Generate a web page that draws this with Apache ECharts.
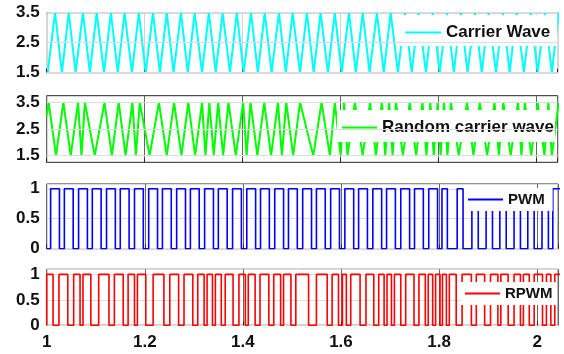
<!DOCTYPE html>
<html>
<head>
<meta charset="utf-8">
<script src="https://cdn.jsdelivr.net/npm/echarts@6/dist/echarts.min.js"></script>
<style>
  html, body { margin: 0; padding: 0; background: #fff; }
  #chart { width: 564px; height: 354px; }
</style>
</head>
<body>
<div id="chart"></div>
<script>
// carrier wave vertices [time, value]
var carrierWave = [
  [1.002,1.5],[1.017,3.5],[1.031,1.5],[1.045,3.5],[1.059,1.5],[1.074,3.5],[1.088,1.5],
  [1.102,3.5],[1.117,1.5],[1.131,3.5],[1.145,1.5],[1.159,3.5],[1.174,1.5],[1.188,3.5],
  [1.202,1.5],[1.217,3.5],[1.231,1.5],[1.245,3.5],[1.259,1.5],[1.274,3.5],[1.288,1.5],
  [1.302,3.5],[1.317,1.5],[1.331,3.5],[1.345,1.5],[1.359,3.5],[1.374,1.5],[1.388,3.5],
  [1.402,1.5],[1.417,3.5],[1.431,1.5],[1.445,3.5],[1.459,1.5],[1.474,3.5],[1.488,1.5],
  [1.502,3.5],[1.517,1.5],[1.531,3.5],[1.545,1.5],[1.559,3.5],[1.574,1.5],[1.588,3.5],
  [1.602,1.5],[1.617,3.5],[1.631,1.5],[1.645,3.5],[1.659,1.5],[1.674,3.5],[1.688,1.5],
  [1.702,3.5],[1.717,1.5],[1.731,3.5],[1.745,1.5],[1.759,3.5],[1.774,1.5],[1.788,3.5],
  [1.802,1.5],[1.817,3.5],[1.831,1.5],[1.845,3.5],[1.859,1.5],[1.874,3.5],[1.888,1.5],
  [1.902,3.5],[1.917,1.5],[1.931,3.5],[1.945,1.5],[1.959,3.5],[1.974,1.5],[1.988,3.5],
  [2.002,1.5],[2.017,3.5],[2.031,1.5],[2.045,3.5]
];

// random carrier vertices [time, value]
var randomCarrier = [
  [1.000,3.0],[1.004,3.5],[1.019,1.5],[1.034,3.5],[1.049,1.5],[1.064,3.5],[1.071,1.5],
  [1.078,3.5],[1.098,1.5],[1.118,3.5],[1.133,1.5],[1.147,3.5],[1.161,1.5],[1.175,3.5],
  [1.182,1.5],[1.190,3.5],[1.210,1.5],[1.229,3.5],[1.245,1.5],[1.260,3.5],[1.275,1.5],
  [1.289,3.5],[1.303,1.5],[1.317,3.5],[1.324,1.5],[1.332,3.5],[1.341,1.5],[1.350,3.5],
  [1.360,1.5],[1.371,3.5],[1.386,1.5],[1.401,3.5],[1.408,1.5],[1.416,3.5],[1.430,1.5],
  [1.444,3.5],[1.458,1.5],[1.472,3.5],[1.480,1.5],[1.489,3.5],[1.503,1.5],[1.517,3.5],
  [1.544,1.5],[1.561,3.5],[1.578,1.5],[1.588,3.5],[1.600,1.5],[1.607,3.5],[1.614,1.5],
  [1.629,3.5],[1.645,1.5],[1.660,3.5],[1.672,1.5],[1.684,3.5],[1.691,1.5],[1.699,3.5],
  [1.706,1.5],[1.713,3.5],[1.727,1.5],[1.741,3.5],[1.754,1.5],[1.767,3.5],[1.775,1.5],
  [1.783,3.5],[1.790,1.5],[1.798,3.5],[1.804,1.5],[1.811,3.5],[1.818,1.5],[1.825,3.5],
  [1.841,1.5],[1.858,3.5],[1.871,1.5],[1.884,3.5],[1.899,1.5],[1.914,3.5],[1.923,1.5],
  [1.932,3.5],[1.947,1.5],[1.962,3.5],[1.969,1.5],[1.976,3.5],[1.989,1.5],[2.002,3.5],
  [2.016,1.5],[2.024,3.5],[2.031,1.5],[2.045,3.5]
];

// pwm pulses [rise, fall]
var pwmPulses = [
  [1.008,1.026],[1.036,1.054],[1.065,1.083],[1.093,1.111],[1.122,1.140],[1.150,1.168],[1.179,1.197],
  [1.208,1.226],[1.236,1.254],[1.265,1.283],[1.293,1.311],[1.322,1.340],[1.350,1.368],[1.379,1.397],
  [1.408,1.426],[1.436,1.454],[1.465,1.483],[1.493,1.511],[1.522,1.540],[1.550,1.568],[1.579,1.597],
  [1.608,1.626],[1.636,1.654],[1.665,1.683],[1.693,1.711],[1.722,1.740],[1.750,1.768],[1.779,1.797],
  [1.806,1.817],[1.837,1.849],[1.867,1.880],[1.896,1.909],[1.924,1.937],[1.953,1.966],[1.981,1.994],
  [2.010,2.023],[2.032,2.058]
];

// random pwm pulses [rise, fall]
var rpwmPulses = [
  [1.000,1.013],[1.025,1.043],[1.055,1.068],[1.074,1.090],[1.106,1.127],[1.138,1.156],[1.166,1.179],
  [1.185,1.202],[1.217,1.239],[1.251,1.269],[1.280,1.298],[1.308,1.321],[1.327,1.338],[1.344,1.356],
  [1.364,1.380],[1.392,1.405],[1.411,1.425],[1.435,1.453],[1.463,1.477],[1.483,1.498],[1.508,1.534],
  [1.550,1.572],[1.582,1.595],[1.603,1.611],[1.620,1.639],[1.651,1.667],[1.677,1.688],[1.694,1.703],
  [1.709,1.722],[1.732,1.749],[1.759,1.772],[1.778,1.787],[1.793,1.802],[1.807,1.815],[1.821,1.835],
  [1.847,1.866],[1.876,1.893],[1.905,1.920],[1.926,1.941],[1.953,1.966],[1.972,1.984],[1.994,2.011],
  [2.019,2.028],[2.036,2.060]
];

var xTicks = { min: 1, max: 2.043, step: 0.2 };
var carrierGrid = [1.5, 2.5, 3.5];
var carrierLabels = ['1.5', '2.5', '3.5'];

function pulsesToSteps(p) {
  var out = [[1, 0]];
  p.forEach(function (q) { out.push([q[0], 1]); out.push([q[1], 0]); });
  return out;
}

var font = 'Liberation Sans, Arial, sans-serif';
var grids = [
  { left: 46.7, top: 12.7, width: 511, height: 60 },
  { left: 46.7, top: 95.7, width: 511, height: 66.6 },
  { left: 46.7, top: 184, width: 511.5, height: 64.7 },
  { left: 46.7, top: 269.3, width: 511.5, height: 56 }
].map(function (g) {
  g.show = true; g.borderColor = '#262626'; g.borderWidth = 1; g.backgroundColor = '#fff';
  return g;
});

var vGridColor = ['#d4d4d4', '#666', '#666', '#666'];
var xAxes = [0, 1, 2, 3].map(function (i) {
  return {
    type: 'value', gridIndex: i, min: xTicks.min, max: xTicks.max, interval: xTicks.step,
    axisLine: { show: false },
    axisTick: { show: true, inside: true, length: 4, lineStyle: { color: '#262626' } },
    splitLine: { show: true, lineStyle: { color: vGridColor[i] } },
    axisLabel: { show: i === 3, showMaxLabel: false, margin: 9, fontSize: 17, fontWeight: 'bold', fontFamily: font, color: '#111' }
  };
});

function carrierFmt(v) {
  var s = v.toFixed(1);
  return carrierLabels.indexOf(s) >= 0 && Math.abs(v * 2 - Math.round(v * 2)) < 1e-6 ? s : '';
}
var labelStyle = { fontSize: 17, fontWeight: 'bold', fontFamily: font, color: '#111', margin: 7 };
var yAxes = [
  { gridIndex: 0, min: 1.5, max: 3.5, interval: 0.5, splitLine: { show: false },
    axisLabel: Object.assign({ formatter: carrierFmt }, labelStyle) },
  { gridIndex: 1, min: 1.25, max: 3.75, interval: 0.25, splitLine: { show: false },
    axisLabel: Object.assign({ formatter: carrierFmt }, labelStyle) },
  { gridIndex: 2, min: 0, max: 1.08, interval: 0.5, splitLine: { show: true, lineStyle: { color: '#dcdcdc' } },
    axisLabel: Object.assign({ showMaxLabel: false }, labelStyle) },
  { gridIndex: 3, min: 0, max: 1.1, interval: 0.5, splitLine: { show: true, lineStyle: { color: '#dcdcdc' } },
    axisLabel: Object.assign({ showMaxLabel: false }, labelStyle) }
].map(function (a) {
  a.type = 'value'; a.axisLine = { show: false }; a.axisTick = { show: false };
  return a;
});

function gridSeries(i) {
  return {
    type: 'line', xAxisIndex: i, yAxisIndex: i, data: [], z: 1, silent: true,
    markLine: {
      silent: true, symbol: 'none', label: { show: false }, animation: false,
      lineStyle: { color: '#dcdcdc', type: 'solid', width: 1 },
      data: carrierGrid.map(function (v) { return { yAxis: v }; })
    }
  };
}

function legend(name, left, top, pad, size, w) {
  return {
    data: [name], left: left, top: top, padding: pad, selectedMode: false,
    icon: 'rect', itemWidth: w, itemHeight: 2, backgroundColor: '#fff',
    textStyle: { fontSize: size, fontWeight: 'bold', fontFamily: font, color: '#111', lineHeight: size }
  };
}

var option = {
  animation: false,
  grid: grids,
  xAxis: xAxes,
  yAxis: yAxes,
  legend: [
    legend('Carrier Wave', 400, 15, [9, 7, 5, 5], 17, 36),
    legend('Random carrier wave', 337, 110, [9, 1, 6, 5], 17, 35),
    legend('PWM', 464, 188, [4, 8, 4, 4], 15, 35),
    legend('RPWM', 461, 282, [4, 4, 4, 4], 15, 35)
  ],
  graphic: [{ type: 'rect', z: 100, shape: { x: 0, y: 77.5, width: 44, height: 10 }, style: { fill: '#fff' } }],
  series: [
    gridSeries(0), gridSeries(1),
    { name: 'Carrier Wave', type: 'line', xAxisIndex: 0, yAxisIndex: 0, data: carrierWave,
      symbol: 'none', color: '#00ffff', lineStyle: { width: 2 } },
    { name: 'Random carrier wave', type: 'line', xAxisIndex: 1, yAxisIndex: 1, data: randomCarrier,
      symbol: 'none', color: '#00ff00', lineStyle: { width: 2 } },
    { name: 'PWM', type: 'line', step: 'end', xAxisIndex: 2, yAxisIndex: 2, data: pulsesToSteps(pwmPulses),
      symbol: 'none', color: '#0000ff', lineStyle: { width: 1.6 } },
    { name: 'RPWM', type: 'line', step: 'end', xAxisIndex: 3, yAxisIndex: 3, data: pulsesToSteps(rpwmPulses),
      symbol: 'none', color: '#ff0000', lineStyle: { width: 1.6 } }
  ]
};

var chart = echarts.init(document.getElementById('chart'), null, { renderer: 'canvas' });
chart.setOption(option);
</script>
</body>
</html>
